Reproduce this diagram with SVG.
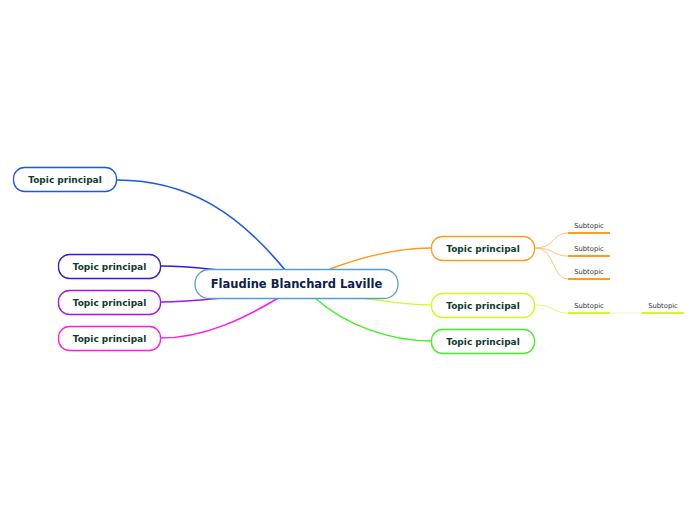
<svg xmlns="http://www.w3.org/2000/svg" width="696" height="520" viewBox="0 0 696 520">
<style>
.t{font-family:"DejaVu Sans",Verdana,sans-serif;font-weight:bold;font-size:9px;fill:#0e3b2e;text-anchor:middle;dominant-baseline:central}
.c{font-family:"DejaVu Sans",Verdana,sans-serif;font-weight:bold;font-size:11.5px;fill:#0b2150;text-anchor:middle;dominant-baseline:central}
.s{font-family:"DejaVu Sans",Verdana,sans-serif;font-size:6.8px;fill:#333;text-anchor:middle}
.n{fill:#fff;stroke-width:1.3}
path{fill:none}
</style>
<rect width="696" height="520" fill="#fff"/>
<g id="connectors">
<path d="M117,180 C190,180 240,215 285,270" stroke="#1a56f5" stroke-width="1.6"/>
<path d="M161,266 C185,266 200,268 220,270" stroke="#3a14e0" stroke-width="1.4"/>
<path d="M161,302 C190,302 210,299 232,297" stroke="#a014f0" stroke-width="1.4"/>
<path d="M161,338 C205,338 245,318 280,297" stroke="#ff1ce4" stroke-width="1.6"/>
<path d="M330,269 C370,254 400,248 431,248" stroke="#ff9a1c" stroke-width="1.4"/>
<path d="M360,298 C390,302 410,305 431,305" stroke="#d8f520" stroke-width="1.2"/>
<path d="M315,298 C345,325 390,341 431,341" stroke="#40f020" stroke-width="1.4"/>
<path d="M535,248 C555,248 552,233 568,233" stroke="#ffc070" stroke-width="1"/>
<path d="M535,248 C555,248 552,256 568,256" stroke="#ffc070" stroke-width="1"/>
<path d="M535,248 C555,248 552,279 568,279" stroke="#ffc070" stroke-width="1"/>
<path d="M535,305 C555,305 552,313 568,313" stroke="#e4f870" stroke-width="1"/>
<path d="M610,313 L642,313" stroke="#e8f0c8" stroke-width="0.8"/>
</g>
<g id="center">
<rect class="n" x="195" y="269.5" width="203" height="29" rx="14" stroke="#4f9ed4"/>
<text class="c" x="296.5" y="284">Flaudine Blanchard Laville</text>
</g>
<g id="t1"><rect class="n" x="13.5" y="167.5" width="103" height="24" rx="11" stroke="#1a56f5"/><text class="t" x="65" y="180">Topic principal</text></g>
<g id="t2"><rect class="n" x="58.5" y="254.5" width="102" height="24" rx="11" stroke="#3a14e0"/><text class="t" x="109.5" y="267">Topic principal</text></g>
<g id="t3"><rect class="n" x="58.5" y="290.5" width="102" height="24" rx="11" stroke="#a014f0"/><text class="t" x="109.5" y="303">Topic principal</text></g>
<g id="t4"><rect class="n" x="58.5" y="326.5" width="102" height="24" rx="11" stroke="#ff1ce4"/><text class="t" x="109.5" y="339">Topic principal</text></g>
<g id="t5"><rect class="n" x="431.5" y="236.5" width="103" height="24" rx="11" stroke="#ff9a1c"/><text class="t" x="483" y="249">Topic principal</text></g>
<g id="t6"><rect class="n" x="431.5" y="293.5" width="103" height="24" rx="11" stroke="#d8f520"/><text class="t" x="483" y="306">Topic principal</text></g>
<g id="t7"><rect class="n" x="431.5" y="329.5" width="103" height="24" rx="11" stroke="#40f020"/><text class="t" x="483" y="342">Topic principal</text></g>
<g id="s1"><text class="s" x="589" y="228">Subtopic</text><path d="M568,233 H610" stroke="#ff9a1c" stroke-width="2"/></g>
<g id="s2"><text class="s" x="589" y="251">Subtopic</text><path d="M568,256 H610" stroke="#ff9a1c" stroke-width="2"/></g>
<g id="s3"><text class="s" x="589" y="274">Subtopic</text><path d="M568,279 H610" stroke="#ff9a1c" stroke-width="2"/></g>
<g id="s4"><text class="s" x="589" y="308">Subtopic</text><path d="M568,313 H610" stroke="#d8f520" stroke-width="2"/></g>
<g id="s5"><text class="s" x="663" y="308">Subtopic</text><path d="M642,313 H684" stroke="#d8f520" stroke-width="2"/></g>
</svg>
